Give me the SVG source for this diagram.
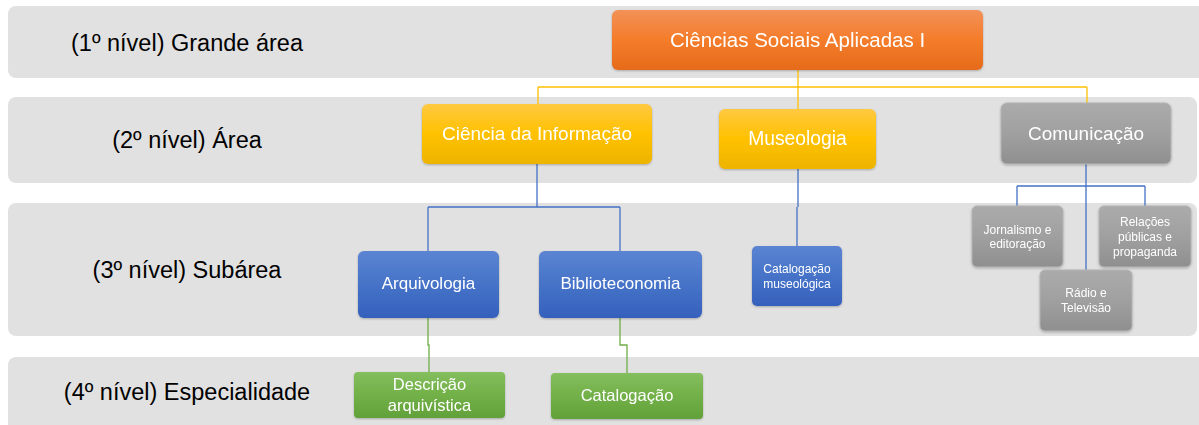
<svg xmlns="http://www.w3.org/2000/svg" width="1199" height="425" viewBox="0 0 1199 425">
  <defs>
    <linearGradient id="gOrange" x1="0" y1="0" x2="0" y2="1">
      <stop offset="0" stop-color="#F39158"/>
      <stop offset="0.5" stop-color="#F47C2A"/>
      <stop offset="1" stop-color="#E56B1A"/>
    </linearGradient>
    <linearGradient id="gYellow" x1="0" y1="0" x2="0" y2="1">
      <stop offset="0" stop-color="#FFC941"/>
      <stop offset="0.5" stop-color="#FFC100"/>
      <stop offset="1" stop-color="#EDB400"/>
    </linearGradient>
    <linearGradient id="gGray" x1="0" y1="0" x2="0" y2="1">
      <stop offset="0" stop-color="#ABABAB"/>
      <stop offset="0.5" stop-color="#A0A0A0"/>
      <stop offset="1" stop-color="#8F8F8F"/>
    </linearGradient>
    <linearGradient id="gBlue" x1="0" y1="0" x2="0" y2="1">
      <stop offset="0" stop-color="#5B84D2"/>
      <stop offset="0.5" stop-color="#4673C8"/>
      <stop offset="1" stop-color="#3560BC"/>
    </linearGradient>
    <linearGradient id="gGreen" x1="0" y1="0" x2="0" y2="1">
      <stop offset="0" stop-color="#84BE5E"/>
      <stop offset="0.5" stop-color="#72B048"/>
      <stop offset="1" stop-color="#62A13A"/>
    </linearGradient>
    <filter id="sh" x="-10%" y="-10%" width="120%" height="130%">
      <feDropShadow dx="0" dy="1" stdDeviation="1" flood-color="#000" flood-opacity="0.25"/>
    </filter>
  </defs>
  <style>
    .band { fill: #E1E1E1; }
    .lvl { font-family: "Liberation Sans", Arial, sans-serif; font-size: 23.5px; fill: #000; text-anchor: middle; }
    .t { font-family: "Liberation Sans", Arial, sans-serif; fill: #FFFFFF; text-anchor: middle; }
    .node { filter: url(#sh); }
    .or { fill: url(#gOrange); }
    .ye { fill: url(#gYellow); }
    .gr { fill: url(#gGray); stroke: #B4B4B4; stroke-width: 1; }
    .bl { fill: url(#gBlue); }
    .gn { fill: url(#gGreen); }
    .cy { fill: none; stroke: #FFC000; stroke-width: 1.3; }
    .cb { fill: none; stroke: #4472C4; stroke-width: 1.3; }
    .cg { fill: none; stroke: #70AD47; stroke-width: 1.3; }
  </style>

  <g id="bands">
    <rect class="band" x="8" y="6" width="1200" height="72" rx="8"/>
    <rect class="band" x="8" y="97" width="1189" height="86" rx="8"/>
    <rect class="band" x="8" y="203" width="1189" height="133" rx="8"/>
    <rect class="band" x="8" y="357" width="1200" height="80" rx="8"/>
  </g>

  <g id="levels">
    <text class="lvl" x="187" y="51">(1º nível) Grande área</text>
    <text class="lvl" x="187" y="148">(2º nível) Área</text>
    <text class="lvl" x="187" y="278">(3º nível) Subárea</text>
    <text class="lvl" x="187" y="400">(4º nível) Especialidade</text>
  </g>

  <g id="connectors">
    <path class="cy" d="M798,70 V87 M538,87 H1087 M538,87 V104 M798,87 V109 M1087,87 V103"/>
    <path class="cb" d="M537,164 V207 M428,207 H620 M428,207 V251 M620,207 V251"/>
    <path class="cb" d="M798,169 V207 M797,207 V246"/>
    <path class="cb" d="M1086,164 V270 M1017,186 H1145 M1017,186 V206 M1145,186 V206"/>
    <path class="cg" d="M428,318 V345 H429 V372"/>
    <path class="cg" d="M620,318 V345 H627 V373"/>
  </g>

  <g id="n-csa" class="node">
    <rect class="or" x="612" y="10" width="371" height="60" rx="6"/>
    <text class="t" x="797.5" y="47" font-size="20.5">Ciências Sociais Aplicadas I</text>
  </g>

  <g id="n-ci" class="node">
    <rect class="ye" x="422" y="104" width="230" height="60" rx="6"/>
    <text class="t" x="537" y="140" font-size="19">Ciência da Informação</text>
  </g>
  <g id="n-mus" class="node">
    <rect class="ye" x="719" y="109" width="157" height="60" rx="6"/>
    <text class="t" x="797.5" y="145" font-size="19.3">Museologia</text>
  </g>
  <g id="n-com" class="node">
    <rect class="gr" x="1001" y="103" width="170" height="61" rx="6"/>
    <text class="t" x="1086" y="140" font-size="19">Comunicação</text>
  </g>

  <g id="n-arq" class="node">
    <rect class="bl" x="358" y="251" width="141" height="67" rx="6"/>
    <text class="t" x="428.5" y="289" font-size="17">Arquivologia</text>
  </g>
  <g id="n-bib" class="node">
    <rect class="bl" x="539" y="251" width="163" height="67" rx="6"/>
    <text class="t" x="620.5" y="289" font-size="17">Biblioteconomia</text>
  </g>
  <g id="n-catmus" class="node">
    <rect class="bl" x="752" y="246" width="90" height="60" rx="5"/>
    <text class="t" x="797" y="273" font-size="12">Catalogação</text>
    <text class="t" x="797" y="288" font-size="12">museológica</text>
  </g>
  <g id="n-jor" class="node">
    <rect class="gr" x="972" y="206" width="91" height="61" rx="5"/>
    <text class="t" x="1017.5" y="234" font-size="12">Jornalismo e</text>
    <text class="t" x="1017.5" y="248" font-size="12">editoração</text>
  </g>
  <g id="n-rel" class="node">
    <rect class="gr" x="1099" y="206" width="92" height="61" rx="5"/>
    <text class="t" x="1145" y="226" font-size="12">Relações</text>
    <text class="t" x="1145" y="241" font-size="12">públicas e</text>
    <text class="t" x="1145" y="256" font-size="12">propaganda</text>
  </g>
  <g id="n-rad" class="node">
    <rect class="gr" x="1040" y="270" width="92" height="61" rx="5"/>
    <text class="t" x="1086" y="297" font-size="12">Rádio e</text>
    <text class="t" x="1086" y="312" font-size="12">Televisão</text>
  </g>

  <g id="n-desc" class="node">
    <rect class="gn" x="354" y="372" width="151" height="46" rx="4"/>
    <text class="t" x="429.5" y="390" font-size="16.5">Descrição</text>
    <text class="t" x="429.5" y="411" font-size="16.5">arquivística</text>
  </g>
  <g id="n-cat" class="node">
    <rect class="gn" x="551" y="373" width="152" height="46" rx="4"/>
    <text class="t" x="627" y="401" font-size="16.5">Catalogação</text>
  </g>
</svg>
